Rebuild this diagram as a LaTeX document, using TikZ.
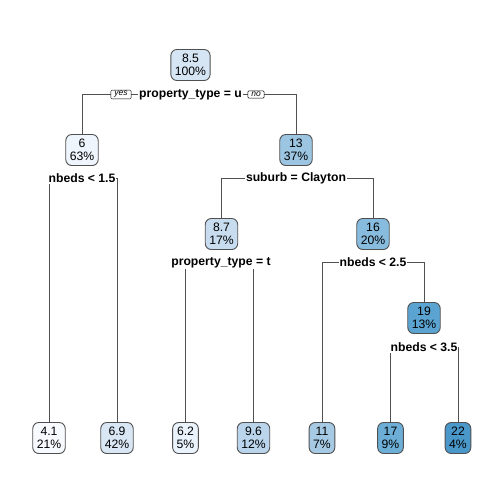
\documentclass[tikz,border=0pt]{standalone}
\usepackage{fontspec}
\setmainfont{Liberation Sans}
\usetikzlibrary{backgrounds}
\definecolor{c41}{HTML}{F7FBFF}
\definecolor{c60}{HTML}{EFF5FC}
\definecolor{c62}{HTML}{EAF2FB}
\definecolor{c69}{HTML}{D9E7F5}
\definecolor{c85}{HTML}{D5E5F4}
\definecolor{c87}{HTML}{C8DCF0}
\definecolor{c96}{HTML}{BAD4EB}
\definecolor{c11}{HTML}{A6CAE4}
\definecolor{c13}{HTML}{9CC5E1}
\definecolor{c16}{HTML}{88BCDE}
\definecolor{c17}{HTML}{6CAED6}
\definecolor{c19}{HTML}{5BA3D1}
\definecolor{c22}{HTML}{4A97C9}
\definecolor{edge}{HTML}{505050}
\tikzset{
  treebox/.style={draw=edge, line width=0.9pt, rounded corners=6pt, align=center,
    inner xsep=4pt, inner ysep=2.5pt, font=\fontsize{12.2}{12.5}\selectfont, minimum height=31pt},
  splitlab/.style={fill=white, inner sep=1pt, font=\fontsize{12.2}{13}\selectfont\bfseries},
  yn/.style={draw=black, fill=white, rounded corners=1.2pt, inner xsep=3.5pt, inner ysep=1.3pt,
    font=\fontsize{8.5}{9}\selectfont\itshape, line width=0.5pt},
  conn/.style={draw=edge, line width=0.8pt}
}
\begin{document}
\begin{tikzpicture}[x=1pt,y=-1pt]
\useasboundingbox (0,0) rectangle (504,504);
% internal nodes
\node[treebox, fill=c85] (n1) at (190.5,65) {8.5\\100\%};
\node[treebox, fill=c60] (n2) at (82,150) {6\\63\%};
\node[treebox, fill=c13] (n3) at (296,150) {13\\37\%};
\node[treebox, fill=c87] (n6) at (221.5,234) {8.7\\17\%};
\node[treebox, fill=c16] (n7) at (373,234) {16\\20\%};
\node[treebox, fill=c19] (n15) at (424,318) {19\\13\%};
% leaves
\node[treebox, fill=c41] (l1) at (49,438) {4.1\\21\%};
\node[treebox, fill=c69] (l2) at (117,438) {6.9\\42\%};
\node[treebox, fill=c62] (l3) at (185.5,438) {6.2\\5\%};
\node[treebox, fill=c96] (l4) at (253.5,438) {9.6\\12\%};
\node[treebox, fill=c11] (l5) at (322,438) {11\\7\%};
\node[treebox, fill=c17] (l6) at (390.5,438) {17\\9\%};
\node[treebox, fill=c22] (l7) at (458,438) {22\\4\%};
% split labels
\node[splitlab] (s1) at (190.5,94.5) {property\_type = u};
\node[splitlab] (s2) at (82,178.5) {nbeds < 1.5};
\node[splitlab] (s3) at (296,178.5) {suburb = Clayton};
\node[splitlab] (s6) at (221,262.5) {property\_type = t};
\node[splitlab] (s7) at (373,262.5) {nbeds < 2.5};
\node[splitlab] (s15) at (424,347.5) {nbeds < 3.5};
\node[yn] (yes) at (121,94.5) {yes};
\node[yn] (no) at (256,94.5) {no};
\begin{pgfonlayer}{background}
\draw[conn] (s1.center) -| (n2.north);
\draw[conn] (s1.center) -| (n3.north);
\draw[conn] (s2.center) -| (l1.north);
\draw[conn] (s2.center) -| (l2.north);
\draw[conn] (s3.center) -| (n6.north);
\draw[conn] (s3.center) -| (n7.north);
\draw[conn] (s6.center) -| (l3.north);
\draw[conn] (s6.center) -| (l4.north);
\draw[conn] (s7.center) -| (l5.north);
\draw[conn] (s7.center) -| (n15.north);
\draw[conn] (s15.center) -| (l6.north);
\draw[conn] (s15.center) -| (l7.north);
\end{pgfonlayer}
\end{tikzpicture}
\end{document}
